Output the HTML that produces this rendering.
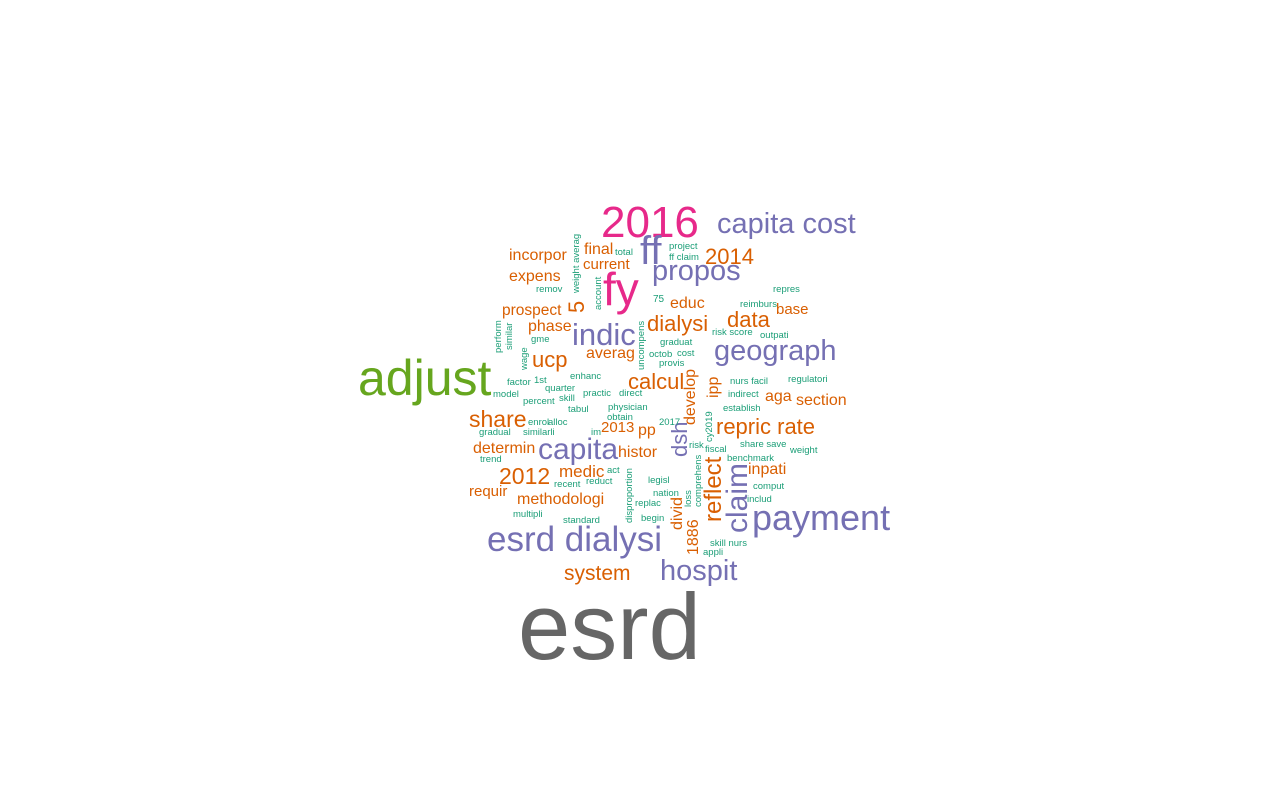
<!DOCTYPE html>
<html><head><meta charset="utf-8">
<style>
html,body{margin:0;padding:0;background:#fff;}
#cloud{position:relative;width:1280px;height:800px;overflow:hidden;background:#fff;font-family:"Liberation Sans",Arial,sans-serif;}
#cloud span{position:absolute;white-space:nowrap;line-height:1;}
</style></head>
<body>
<div id="cloud"></div>
<script>
// word, x, y (baseline / for vertical: baseline-x, bottom-y), font size, colour key, vertical flag
const P='#7570b3',O='#d95f02',T='#1b9e77',K='#e7298a',G='#66a61e',Y='#666666';
const words=[
['esrd',518,660,94,Y,0],['adjust',358,395,50,G,0],['2016',601,238,44,K,0],['fy',603,305,46,K,0],
['ff',640,265,40,P,0],['capita cost',717,235,29,P,0],['propos',652,282,29,P,0],['2014',705,265,22,O,0],
['indic',572,345,31,P,0],['geograph',714,362,29,P,0],['dialysi',647,332,22,O,0],['data',727,328,22,O,0],
['capita',538,460,30,P,0],['esrd dialysi',487,552,35,P,0],['payment',752,530,36,P,0],['hospit',660,582,29,P,0],
['repric rate',716,435,22,O,0],['share',469,427,23,O,0],['ucp',532,368,22,O,0],['calcul',628,390,22,O,0],
['2012',499,484,23,O,0],['system',564,581,21,O,0],['incorpor',509,262,16,O,0],['expens',509,283,16,O,0],
['final',584,256,16,O,0],['current',583,270,15,O,0],['prospect',502,316,15.5,O,0],['phase',528,333,16,O,0],
['educ',670,310,16,O,0],['averag',586,360,16,O,0],['base',776,315,15,O,0],['aga',765,403,16,O,0],
['section',796,407,16,O,0],['determin',473,455,16,O,0],['histor',618,459,16,O,0],['2013',601,433,15,O,0],
['pp',638,437,16,O,0],['medic',559,477,17,O,0],['requir',469,497,15,O,0],['methodologi',517,506,16,O,0],
['inpati',748,476,16,O,0],
['claim',748,533,30,P,1],['reflect',722,522,24,O,1],['dsh',688,457,22,P,1],['develop',697,425,16,O,1],
['ipp',720,398,16,O,1],['divid',684,530,16,O,1],['1886',700,555,16,O,1],['5',585,313,22,O,1],
['weight averag',580,293,9.5,T,1],['account',602,310,9.5,T,1],['perform',502,353,9.5,T,1],['similar',513,350,9.5,T,1],
['uncompens',645,370,9.5,T,1],['wage',528,370,9.5,T,1],['cy2019',713,442,9.5,T,1],['disproportion',633,523,9.5,T,1],
['comprehens',702,507,9.5,T,1],['loss',692,507,9.5,T,1],
['total',615,256,9.5,T,0],['project',669,250,9.5,T,0],['ff claim',669,261,9.5,T,0],['remov',536,293,9.5,T,0],
['75',653,303,10,T,0],['gme',531,343,9.5,T,0],['graduat',660,346,9.5,T,0],['risk score',712,336,9.5,T,0],
['octob',649,358,9.5,T,0],['cost',677,357,9.5,T,0],['provis',659,367,9.5,T,0],['factor',507,386,9.5,T,0],
['1st',534,384,9.5,T,0],['enhanc',570,380,9.5,T,0],['quarter',545,392,9.5,T,0],['model',493,398,9.5,T,0],
['skill',559,402,9.5,T,0],['percent',523,405,9.5,T,0],['practic',583,397,9.5,T,0],['direct',619,397,9.5,T,0],
['physician',608,411,9.5,T,0],['nurs facil',730,385,9.5,T,0],['regulatori',788,383,9.5,T,0],['indirect',728,398,9.5,T,0],
['establish',723,412,9.5,T,0],['tabul',568,413,9.5,T,0],['enrol',528,426,9.5,T,0],['alloc',548,426,9.5,T,0],
['obtain',607,421,9.5,T,0],['2017',659,426,9.5,T,0],['gradual',479,436,9.5,T,0],['similarli',523,436,9.5,T,0],
['im',591,436,9.5,T,0],['risk',689,449,9.5,T,0],['fiscal',705,453,9.5,T,0],['share save',740,448,9.5,T,0],
['weight',790,454,9.5,T,0],['trend',480,463,9.5,T,0],['benchmark',727,462,9.5,T,0],['act',607,474,9.5,T,0],
['recent',554,488,9.5,T,0],['reduct',586,485,9.5,T,0],['legisl',648,484,9.5,T,0],['nation',653,497,9.5,T,0],
['comput',753,490,9.5,T,0],['includ',747,503,9.5,T,0],['replac',635,507,9.5,T,0],['multipli',513,518,9.5,T,0],
['standard',563,524,9.5,T,0],['begin',641,522,9.5,T,0],['skill nurs',710,547,9.5,T,0],['appli',703,556,9.5,T,0],
['reimburs',740,308,9.5,T,0],['repres',773,293,9.5,T,0],['outpati',760,339,9.5,T,0]
];
const cloud=document.getElementById('cloud');
for(const w of words){
  const s=document.createElement('span');
  
  
  s.textContent=w[0];
  s.style.fontSize=w[3]+'px';
  s.style.color=w[4];
  if(w[5]){
    s.style.left=(w[1]-0.847*w[3])+'px';
    s.style.top=w[2]+'px';
    s.style.transformOrigin='0 0';
    s.style.transform='rotate(-90deg)';
  }else{
    s.style.left=w[1]+'px';
    s.style.top=(w[2]-0.847*w[3])+'px';
  }
  cloud.appendChild(s);
}
</script>
</body></html>
